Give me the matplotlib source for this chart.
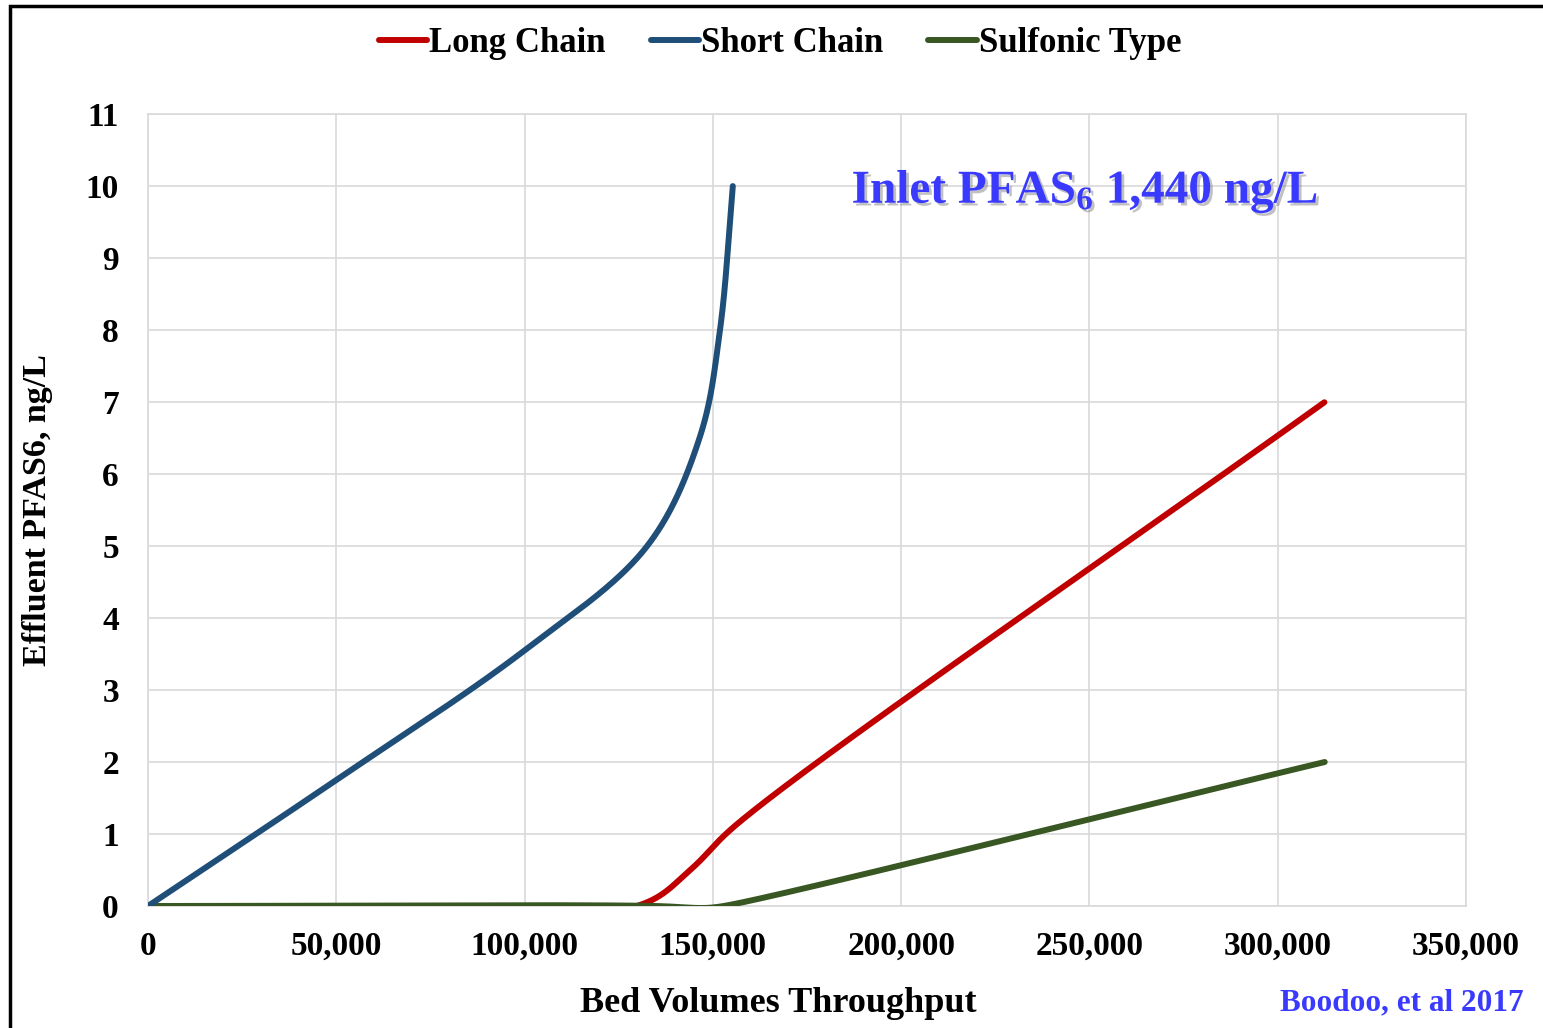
import numpy as np
import matplotlib
matplotlib.use("Agg")
import matplotlib.pyplot as plt
import matplotlib.patheffects as pe
from matplotlib.patches import Rectangle
from matplotlib.ticker import FuncFormatter

plt.rcParams['font.family'] = ['Liberation Serif', 'DejaVu Serif']
plt.rcParams['font.weight'] = 'bold'
plt.rcParams['mathtext.fontset'] = 'custom'
plt.rcParams['mathtext.rm'] = 'Liberation Serif:bold'
plt.rcParams['mathtext.it'] = 'Liberation Serif:bold'
plt.rcParams['mathtext.bf'] = 'Liberation Serif:bold'

# values
short_x = [0, 50000, 100000, 132600, 146600, 151900, 155300]
short_y = [0, 1.75, 3.55, 5.0, 6.52, 8.0, 10.0]

long_x = [0, 130000, 144000, 156000, 312500]
long_y = [0, 0, 0.5, 1.12, 7.0]

sulf_x = [0, 135000, 148000, 153000, 312500]
sulf_y = [0, 0, -0.03, 0.0, 2.0]

x_ticks = [0, 50000, 100000, 150000, 200000, 250000, 300000, 350000]
y_ticks = list(range(0, 12))

SX, SY = 1318 / 350000, 72.0   # data -> approx pixels, so smoothing is isotropic


def smooth(xs, ys, n=80, win=25):
    # centripetal catmull-rom through the points, then a light moving average along the arc
    P = np.column_stack([np.array(xs) * SX, np.array(ys) * SY])
    P = np.vstack([2 * P[0] - P[1], P, 2 * P[-1] - P[-2]])
    pts = []
    for i in range(1, len(P) - 2):
        p0, p1, p2, p3 = P[i - 1], P[i], P[i + 1], P[i + 2]
        t0 = 0.0
        t1 = t0 + np.linalg.norm(p1 - p0) ** 0.5
        t2 = t1 + np.linalg.norm(p2 - p1) ** 0.5
        t3 = t2 + np.linalg.norm(p3 - p2) ** 0.5
        t = np.linspace(t1, t2, n)[:, None]
        a1 = (t1 - t) / (t1 - t0) * p0 + (t - t0) / (t1 - t0) * p1
        a2 = (t2 - t) / (t2 - t1) * p1 + (t - t1) / (t2 - t1) * p2
        a3 = (t3 - t) / (t3 - t2) * p2 + (t - t2) / (t3 - t2) * p3
        b1 = (t2 - t) / (t2 - t0) * a1 + (t - t0) / (t2 - t0) * a2
        b2 = (t3 - t) / (t3 - t1) * a2 + (t - t1) / (t3 - t1) * a3
        pts.append((t2 - t) / (t2 - t1) * b1 + (t - t1) / (t2 - t1) * b2)
    C = np.vstack(pts)
    # resample every pixel of arc length
    d = np.r_[0, np.cumsum(np.linalg.norm(np.diff(C, axis=0), axis=1))]
    s = np.arange(0, d[-1], 1.0)
    C = np.column_stack([np.interp(s, d, C[:, 0]), np.interp(s, d, C[:, 1])])
    k = win // 2
    pad0 = 2 * C[0] - C[1:k + 1][::-1]
    pad1 = 2 * C[-1] - C[-k - 1:-1][::-1]
    Cp = np.vstack([pad0, C, pad1])
    w = np.ones(win) / win
    C = np.column_stack([np.convolve(Cp[:, 0], w, 'valid'), np.convolve(Cp[:, 1], w, 'valid')])
    return C[:, 0] / SX, C[:, 1] / SY


fig = plt.figure(figsize=(15.43, 10.28), dpi=100)
ax = fig.add_axes([148 / 1543, 1 - 906 / 1028, 1318 / 1543, 792 / 1028])

lw = 4.3
x, y = smooth(long_x, long_y)
ax.plot(x, y, color='#C00000', lw=lw, solid_capstyle='round', label='Long Chain', zorder=3)
x, y = smooth(short_x, short_y)
ax.plot(x, y, color='#1F4E79', lw=lw, solid_capstyle='round', label='Short Chain', zorder=4)
x, y = smooth(sulf_x, sulf_y)
ax.plot(x, y, color='#385723', lw=lw, solid_capstyle='round', label='Sulfonic Type', zorder=3)

ax.set_xlim(0, 350000)
ax.set_ylim(0, 11)
ax.set_xticks(x_ticks)
ax.set_yticks(y_ticks)
ax.xaxis.set_major_formatter(FuncFormatter(lambda v, p: f"{int(v):,}"))
ax.tick_params(axis='both', length=0, labelsize=24)
ax.tick_params(axis='x', pad=18)
ax.tick_params(axis='y', pad=21)
ax.grid(True, color='#d9d9d9', lw=1.2)
ax.set_axisbelow(True)
for s in ax.spines.values():
    s.set_color('#d9d9d9')
    s.set_linewidth(1.2)

ax.text(1085 / 1543, 1 - 192 / 1028, r"Inlet PFAS$_6$ 1,440 ng/L", transform=fig.transFigure,
        ha='center', va='center', fontsize=34, color='#3A3AFF',
        path_effects=[pe.SimplePatchShadow(offset=(2, -2), shadow_rgbFace='#777777', alpha=0.45), pe.Normal()])

fig.text(38 / 1543, 1 - 510 / 1028, "Effluent PFAS6, ng/L", rotation=90, ha='center', va='center', fontsize=24.5)
fig.text(778 / 1543, 1 - 1004 / 1028, "Bed Volumes Throughput", ha='center', va='center', fontsize=26)
fig.text(1524 / 1543, 1 - 1003 / 1028, "Boodoo, et al 2017", ha='right', va='center', fontsize=22.5, color='#3A3AFF')

fig.legend(loc='center', bbox_to_anchor=(780 / 1543, 1 - 44 / 1028), ncol=3, frameon=False,
           fontsize=25, handlelength=1.4, handletextpad=0.05, columnspacing=1.3)

# outer frame, only top and left are in view
fig.patches.append(Rectangle((10 / 1543, -0.2), 1.3, 1.2 - 6 / 1028, transform=fig.transFigure,
                             fill=False, edgecolor='black', lw=2.5))

fig.savefig("out.png", dpi=100)
